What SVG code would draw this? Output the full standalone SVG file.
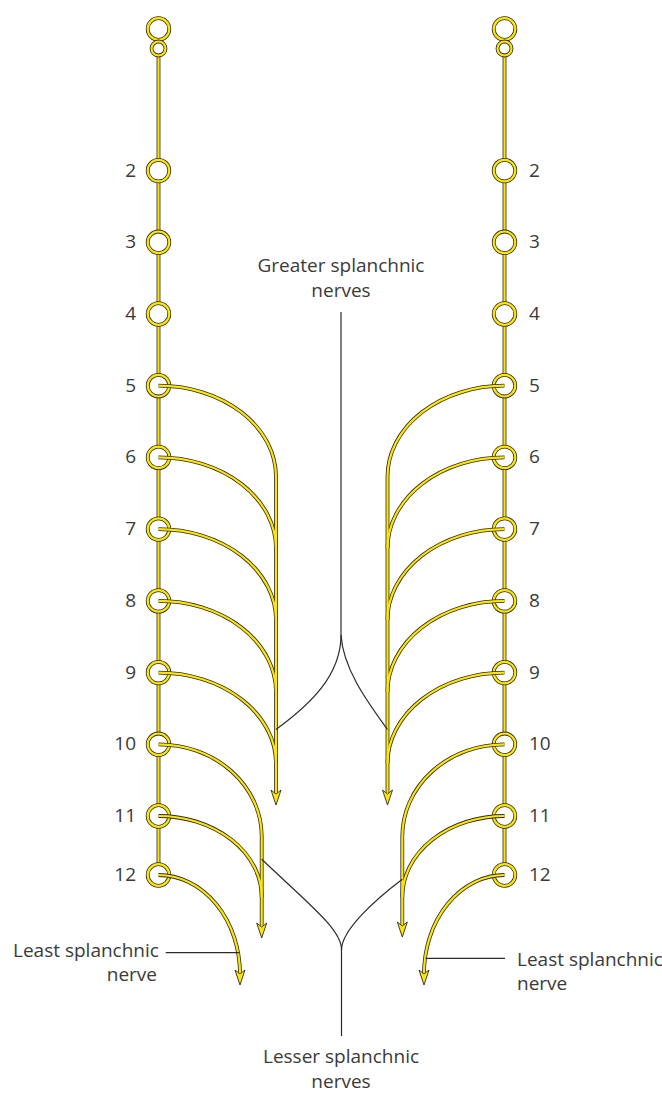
<svg xmlns="http://www.w3.org/2000/svg" xmlns:xlink="http://www.w3.org/1999/xlink" width="662" height="1095" viewBox="0 0 662 1095">
<style>
.o{fill:none;stroke:#2b2b2b;stroke-width:3.8;}
.y{fill:none;stroke:#FFE600;stroke-width:2.2;}
.gc{fill:#fff;stroke:#2b2b2b;stroke-width:3.8;}
.gy{fill:none;stroke:#FFE600;stroke-width:2.2;}
.bl{fill:none;stroke:#2b2b2b;stroke-width:1.2;}
text{font-family:"Open Sans","Liberation Sans",sans-serif;font-size:19px;fill:#3a3a3a;}
.l{text-anchor:end;}
.m{text-anchor:middle;}
</style>
<defs>
<marker id="ah" markerUnits="userSpaceOnUse" orient="auto" refX="0" refY="0" markerWidth="20" markerHeight="14" viewBox="-6 -7 20 14" overflow="visible">
<path d="M11,0 L-4,-5 L0,0 L-4,5 Z" fill="#FFE600" stroke="#2b2b2b" stroke-width="0.9" stroke-linejoin="miter"/>
</marker>
<path id="cl" d="M158.5,48.5 L158.5,875"/>
<path id="cr" d="M504.5,48.5 L504.5,875"/>
<path id="L5" d="M158.5,385.7 A117.5,91 0 0 1 276,476.7 L276,794"/>
<path id="L6" d="M158.5,457.4 A117.5,91 0 0 1 276,548.4"/>
<path id="L7" d="M158.5,529.1 A117.5,91 0 0 1 276,620.1"/>
<path id="L8" d="M158.5,600.9 A117.5,91 0 0 1 276,691.9"/>
<path id="L9" d="M158.5,672.6 A117.5,91 0 0 1 276,763.6"/>
<path id="L10" d="M158.5,744.3 A103.2,92 0 0 1 261.7,836.3 L261.7,927"/>
<path id="L11" d="M158.5,816 A103.2,81 0 0 1 261.7,897"/>
<path id="L12" d="M158.5,875 A81.5,99 0 0 1 240,974"/>
<path id="R5" d="M504.5,385.7 A117,91 0 0 0 387.5,476.7 L387.5,794"/>
<path id="R6" d="M504.5,457.4 A117,91 0 0 0 387.5,548.4"/>
<path id="R7" d="M504.5,529.1 A117,91 0 0 0 387.5,620.1"/>
<path id="R8" d="M504.5,600.9 A117,91 0 0 0 387.5,691.9"/>
<path id="R9" d="M504.5,672.6 A117,91 0 0 0 387.5,763.6"/>
<path id="R10" d="M504.5,744.3 A102.2,92 0 0 0 402.3,836.3 L402.3,926"/>
<path id="R11" d="M504.5,816 A102.2,81 0 0 0 402.3,897"/>
<path id="R12" d="M504.5,875 A80.5,99 0 0 0 424,974"/>
</defs>

<g id="chains">
<use href="#cl" class="o"/><use href="#cl" class="y"/>
<use href="#cr" class="o"/><use href="#cr" class="y"/>
</g>

<g id="ganglion-L-top"><circle cx="158.5" cy="29" r="10.8" class="gc"/><circle cx="158.5" cy="29" r="10.8" class="gy"/><circle cx="158.5" cy="48.5" r="7" class="gc"/><circle cx="158.5" cy="48.5" r="7" class="gy"/></g>
<g id="ganglion-R-top"><circle cx="504.5" cy="29" r="10.8" class="gc"/><circle cx="504.5" cy="29" r="10.8" class="gy"/><circle cx="504.5" cy="48.5" r="7" class="gc"/><circle cx="504.5" cy="48.5" r="7" class="gy"/></g>

<g id="ganglion-L2"><circle cx="158.5" cy="170.6" r="10.8" class="gc"/><circle cx="158.5" cy="170.6" r="10.8" class="gy"/><text x="136" y="176.6" class="l">2</text></g>
<g id="ganglion-L3"><circle cx="158.5" cy="242.3" r="10.8" class="gc"/><circle cx="158.5" cy="242.3" r="10.8" class="gy"/><text x="136" y="248.3" class="l">3</text></g>
<g id="ganglion-L4"><circle cx="158.5" cy="314" r="10.8" class="gc"/><circle cx="158.5" cy="314" r="10.8" class="gy"/><text x="136" y="320" class="l">4</text></g>
<g id="ganglion-L5"><circle cx="158.5" cy="385.7" r="10.8" class="gc"/><circle cx="158.5" cy="385.7" r="10.8" class="gy"/><text x="136" y="391.7" class="l">5</text></g>
<g id="ganglion-L6"><circle cx="158.5" cy="457.4" r="10.8" class="gc"/><circle cx="158.5" cy="457.4" r="10.8" class="gy"/><text x="136" y="463.4" class="l">6</text></g>
<g id="ganglion-L7"><circle cx="158.5" cy="529.1" r="10.8" class="gc"/><circle cx="158.5" cy="529.1" r="10.8" class="gy"/><text x="136" y="535.1" class="l">7</text></g>
<g id="ganglion-L8"><circle cx="158.5" cy="600.9" r="10.8" class="gc"/><circle cx="158.5" cy="600.9" r="10.8" class="gy"/><text x="136" y="606.9" class="l">8</text></g>
<g id="ganglion-L9"><circle cx="158.5" cy="672.6" r="10.8" class="gc"/><circle cx="158.5" cy="672.6" r="10.8" class="gy"/><text x="136" y="678.6" class="l">9</text></g>
<g id="ganglion-L10"><circle cx="158.5" cy="744.3" r="10.8" class="gc"/><circle cx="158.5" cy="744.3" r="10.8" class="gy"/><text x="136" y="750.3" class="l">10</text></g>
<g id="ganglion-L11"><circle cx="158.5" cy="816" r="10.8" class="gc"/><circle cx="158.5" cy="816" r="10.8" class="gy"/><text x="136" y="822" class="l">11</text></g>
<g id="ganglion-L12"><circle cx="158.5" cy="875" r="10.8" class="gc"/><circle cx="158.5" cy="875" r="10.8" class="gy"/><text x="136" y="881" class="l">12</text></g>

<g id="ganglion-R2"><circle cx="504.5" cy="170.6" r="10.8" class="gc"/><circle cx="504.5" cy="170.6" r="10.8" class="gy"/><text x="529" y="176.6">2</text></g>
<g id="ganglion-R3"><circle cx="504.5" cy="242.3" r="10.8" class="gc"/><circle cx="504.5" cy="242.3" r="10.8" class="gy"/><text x="529" y="248.3">3</text></g>
<g id="ganglion-R4"><circle cx="504.5" cy="314" r="10.8" class="gc"/><circle cx="504.5" cy="314" r="10.8" class="gy"/><text x="529" y="320">4</text></g>
<g id="ganglion-R5"><circle cx="504.5" cy="385.7" r="10.8" class="gc"/><circle cx="504.5" cy="385.7" r="10.8" class="gy"/><text x="529" y="391.7">5</text></g>
<g id="ganglion-R6"><circle cx="504.5" cy="457.4" r="10.8" class="gc"/><circle cx="504.5" cy="457.4" r="10.8" class="gy"/><text x="529" y="463.4">6</text></g>
<g id="ganglion-R7"><circle cx="504.5" cy="529.1" r="10.8" class="gc"/><circle cx="504.5" cy="529.1" r="10.8" class="gy"/><text x="529" y="535.1">7</text></g>
<g id="ganglion-R8"><circle cx="504.5" cy="600.9" r="10.8" class="gc"/><circle cx="504.5" cy="600.9" r="10.8" class="gy"/><text x="529" y="606.9">8</text></g>
<g id="ganglion-R9"><circle cx="504.5" cy="672.6" r="10.8" class="gc"/><circle cx="504.5" cy="672.6" r="10.8" class="gy"/><text x="529" y="678.6">9</text></g>
<g id="ganglion-R10"><circle cx="504.5" cy="744.3" r="10.8" class="gc"/><circle cx="504.5" cy="744.3" r="10.8" class="gy"/><text x="529" y="750.3">10</text></g>
<g id="ganglion-R11"><circle cx="504.5" cy="816" r="10.8" class="gc"/><circle cx="504.5" cy="816" r="10.8" class="gy"/><text x="529" y="822">11</text></g>
<g id="ganglion-R12"><circle cx="504.5" cy="875" r="10.8" class="gc"/><circle cx="504.5" cy="875" r="10.8" class="gy"/><text x="529" y="881">12</text></g>

<g id="connectors">
<use href="#L5" class="o"/><use href="#L6" class="o"/><use href="#L7" class="o"/><use href="#L8" class="o"/><use href="#L9" class="o"/>
<use href="#L10" class="o"/><use href="#L11" class="o"/><use href="#L12" class="o"/>
<use href="#R5" class="o"/><use href="#R6" class="o"/><use href="#R7" class="o"/><use href="#R8" class="o"/><use href="#R9" class="o"/>
<use href="#R10" class="o"/><use href="#R11" class="o"/><use href="#R12" class="o"/>
<use href="#L6" class="y"/><use href="#L7" class="y"/><use href="#L8" class="y"/><use href="#L9" class="y"/><use href="#L11" class="y"/>
<use href="#R6" class="y"/><use href="#R7" class="y"/><use href="#R8" class="y"/><use href="#R9" class="y"/><use href="#R11" class="y"/>
<path d="M158.5,385.7 A117.5,91 0 0 1 276,476.7 L276,794" class="y" marker-end="url(#ah)"/>
<path d="M158.5,744.3 A103.2,92 0 0 1 261.7,836.3 L261.7,927" class="y" marker-end="url(#ah)"/>
<path d="M158.5,875 A81.5,99 0 0 1 240,974" class="y" marker-end="url(#ah)"/>
<path d="M504.5,385.7 A117,91 0 0 0 387.5,476.7 L387.5,794" class="y" marker-end="url(#ah)"/>
<path d="M504.5,744.3 A102.2,92 0 0 0 402.3,836.3 L402.3,926" class="y" marker-end="url(#ah)"/>
<path d="M504.5,875 A80.5,99 0 0 0 424,974" class="y" marker-end="url(#ah)"/>

<path d="M341,312 L341,635" class="bl"/>
<path d="M341,635 C341,675 311,704 276,729.5" class="bl"/>
<path d="M341,635 C343,670 370,705 387.5,729.5" class="bl"/>
<path d="M341.5,950 L341.5,1036" class="bl"/>
<path d="M341.5,950 C342,930 310,905 261.7,859.3" class="bl"/>
<path d="M341.5,950 C341.5,930 375,900 402.3,879.3" class="bl"/>
<path d="M165.7,952.7 L239,952.7" class="bl"/>
<path d="M425.5,958.3 L505,958.3" class="bl"/>
</g>

<g id="labels">
<text x="341" y="272" class="m">Greater splanchnic</text>
<text x="341" y="297" class="m">nerves</text>
<text x="341" y="1063" class="m">Lesser splanchnic</text>
<text x="341" y="1088" class="m">nerves</text>
<text x="13" y="957">Least splanchnic</text>
<text x="157" y="981" class="l">nerve</text>
<text x="517" y="966">Least splanchnic</text>
<text x="517" y="990">nerve</text>
</g>
</svg>
